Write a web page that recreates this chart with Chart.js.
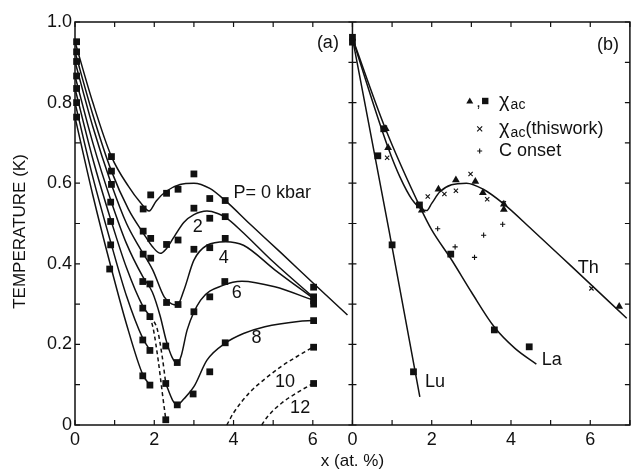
<!DOCTYPE html>
<html>
<head>
<meta charset="utf-8">
<script src="https://cdn.jsdelivr.net/npm/chart.js@4.4.0/dist/chart.umd.min.js"></script>
<style>
  html, body { margin: 0; padding: 0; background: #fff; }
  #wrap { width: 635px; height: 473px; }
</style>
</head>
<body>
<div id="wrap"><canvas id="chart" width="635" height="473"></canvas></div>
<script>
// ---- nhãn trục ----
const yLabels = ['0', '0.2', '0.4', '0.6', '0.8', '1.0'];
const xLabels = ['0', '2', '4', '6'];

// ---- (a) điểm đo (ô vuông), x (at.%) / T (K) ----
const squaresA = [
  [0.04, 0.951], [0.04, 0.926], [0.04, 0.902], [0.04, 0.866], [0.04, 0.835], [0.04, 0.800], [0.04, 0.764],
  [0.92, 0.666], [0.92, 0.630], [0.92, 0.597], [0.90, 0.553], [0.90, 0.505], [0.90, 0.447], [0.875, 0.387],
  [1.72, 0.536], [1.72, 0.481], [1.72, 0.424], [1.71, 0.356], [1.71, 0.290], [1.71, 0.211], [1.71, 0.122],
  [1.91, 0.571], [1.91, 0.463], [1.91, 0.414], [1.89, 0.350], [1.89, 0.269], [1.89, 0.185], [1.89, 0.099],
  [2.31, 0.575], [2.31, 0.448], [2.31, 0.304], [2.29, 0.196], [2.29, 0.103], [2.29, 0.013],
  [2.60, 0.585], [2.60, 0.459], [2.60, 0.299], [2.58, 0.155], [2.58, 0.050],
  [3.00, 0.623], [3.00, 0.538], [3.00, 0.436], [3.00, 0.281], [2.98, 0.077],
  [3.40, 0.562], [3.40, 0.513], [3.40, 0.440], [3.40, 0.318], [3.40, 0.132],
  [3.79, 0.557], [3.79, 0.517], [3.79, 0.463], [3.78, 0.356], [3.79, 0.204],
  [6.02, 0.342], [6.02, 0.318], [6.02, 0.308], [6.02, 0.300], [6.02, 0.259], [6.02, 0.193], [6.02, 0.103]
];

// ---- (a) đường cong theo áp suất ----
const curveP0 = [[0, 0.951], [0.45, 0.80], [0.92, 0.666], [1.35, 0.592], [1.65, 0.552], [1.87, 0.531], [2.05, 0.556],
  [2.3, 0.580], [2.65, 0.597], [3.0, 0.600], [3.4, 0.587], [3.8, 0.556], [4.4, 0.50], [5.2, 0.427], [6.0, 0.353], [6.875, 0.273]];
const curveP2 = [[0, 0.926], [0.45, 0.77], [0.92, 0.630], [1.35, 0.535], [1.73, 0.475], [1.95, 0.443], [2.15, 0.426],
  [2.3, 0.437], [2.5, 0.467], [2.75, 0.503], [3.0, 0.522], [3.33, 0.531], [3.6, 0.525], [3.8, 0.515], [4.17, 0.484], [5.0, 0.405], [6.0, 0.318]];
const curveP4 = [[0, 0.902], [0.45, 0.74], [0.92, 0.597], [1.3, 0.50], [1.6, 0.445], [1.96, 0.385], [2.25, 0.318],
  [2.45, 0.300], [2.58, 0.298], [2.75, 0.335], [3.0, 0.409], [3.33, 0.446], [3.8, 0.455], [4.25, 0.446], [5.04, 0.385], [6.0, 0.315]];
const curveP6 = [[0, 0.866], [0.45, 0.70], [0.92, 0.553], [1.3, 0.45], [1.71, 0.368], [1.95, 0.33], [2.15, 0.27],
  [2.3, 0.21], [2.45, 0.168], [2.58, 0.153], [2.68, 0.172], [2.83, 0.236], [3.17, 0.31], [3.75, 0.347], [4.21, 0.357], [5.04, 0.343], [6.0, 0.31]];
const curveP8a = [[0, 0.835], [0.45, 0.66], [0.92, 0.504], [1.3, 0.39], [1.71, 0.295], [1.89, 0.27]];
const curveP8b = [[2.29, 0.103], [2.46, 0.062], [2.58, 0.050], [2.75, 0.065], [3.0, 0.095], [3.33, 0.161],
  [3.79, 0.203], [4.25, 0.227], [4.79, 0.244], [5.63, 0.257], [6.0, 0.259]];
const curveP10 = [[0, 0.800], [0.45, 0.615], [0.92, 0.447], [1.3, 0.32], [1.71, 0.215], [1.89, 0.186]];
const curveP12 = [[0, 0.764], [0.45, 0.57], [0.92, 0.387], [1.3, 0.25], [1.71, 0.125], [1.89, 0.099]];
// nét đứt
const dashLeft1 = [[1.89, 0.27], [1.98, 0.236], [2.1, 0.16], [2.21, 0.074], [2.29, 0.014]];
const dashLeft2 = [[1.89, 0.27], [2.08, 0.236], [2.2, 0.17], [2.29, 0.103]];
const dashP10 = [[3.83, 0], [4.0, 0.03], [4.4, 0.08], [4.8, 0.115], [5.2, 0.145], [5.6, 0.17], [6.0, 0.193]];
const dashP12 = [[4.71, 0], [4.85, 0.02], [5.21, 0.054], [5.6, 0.08], [6.0, 0.103]];

// ---- (b) ----
const curveLu = [[0, 0.96], [0.92, 0.484], [1.7, 0.07]];
const curveLa = [[0, 0.96], [0.82, 0.738], [1.71, 0.54], [2.0, 0.484], [2.5, 0.41], [3.0, 0.33], [3.58, 0.243], [4.1, 0.19], [4.64, 0.151]];
const curveTh = [[0, 0.96], [0.45, 0.82], [0.9, 0.688], [1.2, 0.615], [1.5, 0.56], [1.75, 0.535], [1.87, 0.532], [2.0, 0.55],
  [2.2, 0.578], [2.5, 0.596], [2.875, 0.600], [3.3, 0.585], [3.8, 0.55], [4.54, 0.484], [5.5, 0.396], [6.92, 0.265]];
const triB = [[0.84, 0.735], [0.9, 0.688], [1.75, 0.533], [2.17, 0.585], [2.61, 0.608], [3.1, 0.604], [3.29, 0.576], [3.82, 0.548], [3.82, 0.535], [6.73, 0.294]];
const squaresB = [[0, 0.962], [0, 0.950], [0.79, 0.735], [0.64, 0.668], [1.69, 0.546], [1.0, 0.447], [1.54, 0.132], [2.48, 0.424], [3.58, 0.236], [4.46, 0.194]];
const crossThisWork = [[0.875, 0.663], [1.9, 0.567], [2.32, 0.573], [2.61, 0.581], [2.98, 0.623], [3.4, 0.56], [3.82, 0.55], [6.03, 0.339]];
const plusConset = [[2.15, 0.487], [2.59, 0.442], [3.08, 0.416], [3.31, 0.471], [3.79, 0.498]];

const ink = '#111';
const fontFam = "'Liberation Sans', Arial, Helvetica, sans-serif";
const toXY = arr => arr.map(([x, y]) => ({ x, y }));

function curve(data, axis, dash) {
    return {
        data: toXY(data), xAxisID: axis, yAxisID: 'y', showLine: true,
        borderColor: ink, borderWidth: 1.5, pointRadius: 0, borderDash: dash || [],
        cubicInterpolationMode: 'monotone', fill: false, clip: false
    };
}
function marks(data, axis, style, r, bw) {
    return {
        data: toXY(data), xAxisID: axis, yAxisID: 'y', showLine: false,
        pointStyle: style, pointRadius: r, backgroundColor: ink, borderColor: ink,
        borderWidth: bw, clip: false
    };
}

const dash = [4, 3];
const datasets = [
    curve(curveP0, 'xa'), curve(curveP2, 'xa'), curve(curveP4, 'xa'), curve(curveP6, 'xa'),
    curve(curveP8a, 'xa'), curve(curveP8b, 'xa'), curve(curveP10, 'xa'), curve(curveP12, 'xa'),
    curve(dashLeft1, 'xa', dash), curve(dashLeft2, 'xa', dash), curve(dashP10, 'xa', dash), curve(dashP12, 'xa', dash),
    marks(squaresA, 'xa', 'rect', 4.8, 0),
    curve(curveLu, 'xb'), curve(curveLa, 'xb'), curve(curveTh, 'xb'),
    marks(squaresB, 'xb', 'rect', 4.8, 0),
    marks(triB, 'xb', 'triangle', 4.5, 0),
    marks(crossThisWork, 'xb', 'crossRot', 3, 1.1),
    marks(plusConset, 'xb', 'cross', 2.6, 1.1)
];

function xAxis() {
    return {
        type: 'linear', axis: 'x', position: 'bottom', stack: 'x', stackWeight: 1, min: 0, max: 7,
        grid: { display: false, drawTicks: false }, border: { display: false },
        ticks: {
            stepSize: 1, autoSkip: false, maxRotation: 0, padding: 4, color: ink,
            font: { family: fontFam, size: 18 },
            callback: v => (v % 2 === 0 && xLabels[v / 2] !== undefined) ? xLabels[v / 2] : ''
        },
        afterFit(s) { s.height = 48; }
    };
}

// chữ trên hình
const texts = {
    id: 'texts',
    afterDraw(chart) {
        const { ctx, scales: { xa, xb, y } } = chart;
        const put = (s, str, xv, yv, align, size) => {
            ctx.font = (size || 18) + 'px ' + fontFam;
            ctx.textAlign = align || 'center';
            ctx.textBaseline = 'middle';
            ctx.fillText(str, s.getPixelForValue(xv), y.getPixelForValue(yv));
        };
        ctx.save();
        ctx.fillStyle = ink;
        put(xa, 'P= 0 kbar', 4.0, 0.576, 'left');
        put(xa, '2', 3.1, 0.491);
        put(xa, '4', 3.75, 0.414);
        put(xa, '6', 4.08, 0.328);
        put(xa, '8', 4.58, 0.216);
        put(xa, '10', 5.3, 0.107);
        put(xa, '12', 5.68, 0.042);
        put(xa, '(a)', 6.38, 0.948);
        put(xb, '(b)', 6.45, 0.943);
        put(xb, 'Lu', 2.08, 0.107);
        put(xb, 'La', 5.03, 0.161);
        put(xb, 'Th', 5.95, 0.39);

        // chú thích
        const tx = xb.getPixelForValue(3.7);
        const rows = [0.804, 0.735, 0.680].map(v => y.getPixelForValue(v));
        const chi = (py, tail) => {
            ctx.textAlign = 'left';
            ctx.textBaseline = 'middle';
            ctx.font = '20px ' + fontFam;
            ctx.fillText('χ', tx, py);
            let w = ctx.measureText('χ').width + 1;
            ctx.font = '14px ' + fontFam;
            ctx.fillText('ac', tx + w, py + 4);
            w += ctx.measureText('ac').width;
            if (tail) {
                ctx.font = '18px ' + fontFam;
                ctx.fillText(tail, tx + w, py);
            }
        };
        chi(rows[0]);
        chi(rows[1], '(thiswork)');
        put(xb, 'C onset', 3.7, 0.680, 'left');

        // ký hiệu chú thích
        const tri = xb.getPixelForValue(2.96), sq = xb.getPixelForValue(3.35), cx = xb.getPixelForValue(3.21);
        ctx.beginPath();
        ctx.moveTo(tri, rows[0] - 3.5); ctx.lineTo(tri + 3.5, rows[0] + 2.5); ctx.lineTo(tri - 3.5, rows[0] + 2.5);
        ctx.closePath(); ctx.fill();
        ctx.fillRect(sq - 3.2, rows[0] - 3.2, 6.4, 6.4);
        ctx.font = '16px ' + fontFam; ctx.textAlign = 'center';
        ctx.fillText(',', (tri + sq) / 2 + 1, rows[0] + 2);
        ctx.strokeStyle = ink; ctx.lineWidth = 1.1;
        ctx.beginPath();
        ctx.moveTo(cx - 2.5, rows[1] - 2.5); ctx.lineTo(cx + 2.5, rows[1] + 2.5);
        ctx.moveTo(cx + 2.5, rows[1] - 2.5); ctx.lineTo(cx - 2.5, rows[1] + 2.5);
        ctx.moveTo(cx - 2.5, rows[2]); ctx.lineTo(cx + 2.5, rows[2]);
        ctx.moveTo(cx, rows[2] - 2.5); ctx.lineTo(cx, rows[2] + 2.5);
        ctx.stroke();

        // tiêu đề trục
        ctx.font = '17px ' + fontFam;
        ctx.textAlign = 'center';
        ctx.textBaseline = 'middle';
        ctx.fillText('x (at. %)', xa.right, 461);
        ctx.translate(20, (chart.chartArea.top + chart.chartArea.bottom) / 2 + 8);
        ctx.rotate(-Math.PI / 2);
        ctx.fillText('TEMPERATURE (K)', 0, 0);
        ctx.restore();
    }
};

// khung và vạch chia hướng vào trong
const frame = {
    id: 'frame',
    afterDatasetsDraw(chart) {
        const { ctx, chartArea: a, scales: { xa, xb, y } } = chart;
        const mid = xa.right;
        ctx.save();
        ctx.strokeStyle = ink;
        ctx.lineWidth = 1.5;
        ctx.strokeRect(a.left, a.top, a.right - a.left, a.bottom - a.top);
        ctx.beginPath(); ctx.moveTo(mid, a.top); ctx.lineTo(mid, a.bottom); ctx.stroke();
        ctx.lineWidth = 1.2;
        ctx.beginPath();
        y.ticks.forEach(t => {
            const py = y.getPixelForValue(t.value);
            ctx.moveTo(a.left, py); ctx.lineTo(a.left + 5, py);
            ctx.moveTo(mid - 4, py); ctx.lineTo(mid + 4, py);
            ctx.moveTo(a.right - 5, py); ctx.lineTo(a.right, py);
        });
        [xa, xb].forEach(s => s.ticks.forEach(t => {
            const px = s.getPixelForValue(t.value);
            ctx.moveTo(px, a.bottom); ctx.lineTo(px, a.bottom - 5);
            ctx.moveTo(px, a.top); ctx.lineTo(px, a.top + 5);
        }));
        ctx.stroke();
        ctx.restore();
    }
};

new Chart(document.getElementById('chart'), {
    type: 'scatter',
    data: { datasets },
    options: {
        responsive: false,
        animation: false,
        events: [],
        layout: { padding: { top: 22, right: 2, left: 0, bottom: 0 } },
        plugins: { legend: { display: false }, tooltip: { enabled: false } },
        scales: {
            xa: xAxis(),
            xb: xAxis(),
            y: {
                type: 'linear', position: 'left', min: 0, max: 1,
                grid: { display: false, drawTicks: false }, border: { display: false },
                ticks: {
                    stepSize: 0.1, autoSkip: false, padding: 3, color: ink,
                    font: { family: fontFam, size: 18 },
                    callback: v => { const i = Math.round(v * 10); return i % 2 === 0 ? yLabels[i / 2] : ''; }
                },
                afterFit(s) { s.width = 75; }
            }
        }
    },
    plugins: [frame, texts]
});
</script>
</body>
</html>
